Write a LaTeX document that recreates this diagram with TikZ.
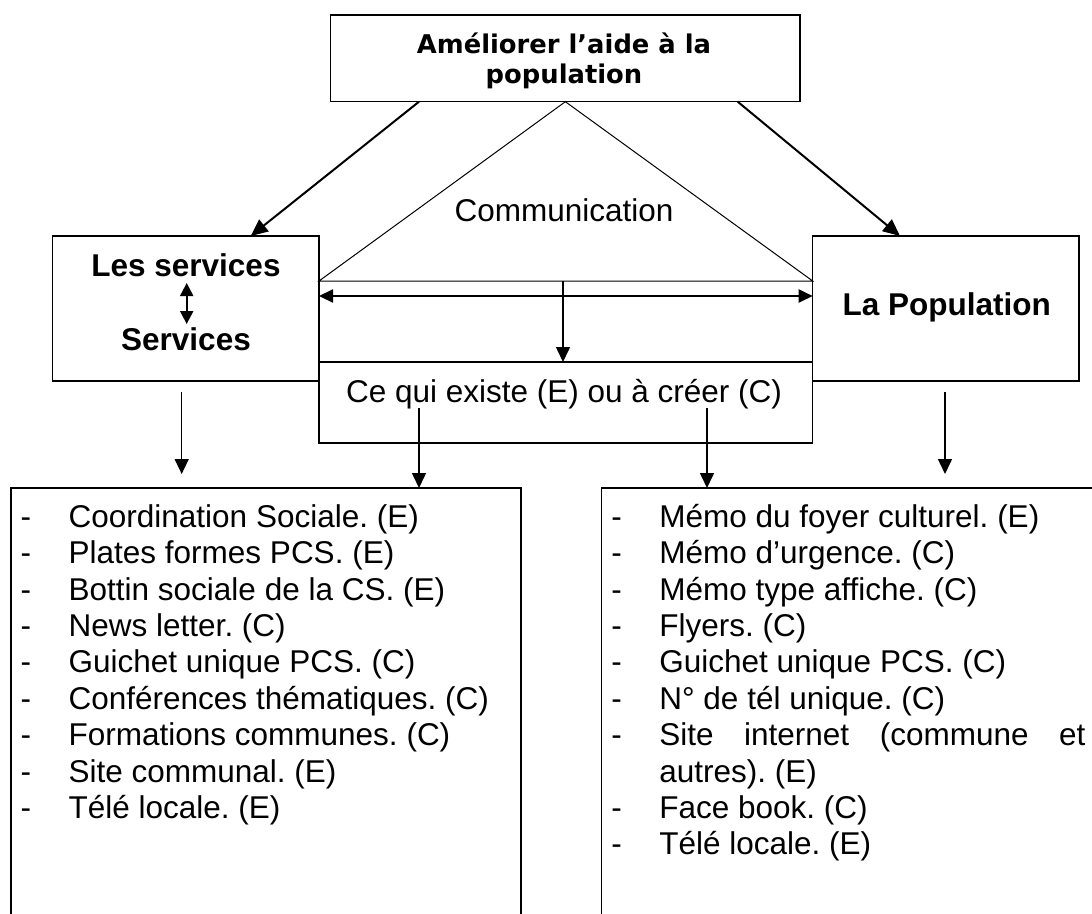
\documentclass[tikz,border=0pt]{standalone}
\usepackage{fontspec}
\setmainfont{Liberation Sans}
\newfontfamily\djv{DejaVu Sans}
\usetikzlibrary{arrows.meta,calc}
\newcommand\dashcell{\makebox[57.5pt][l]{\hspace{9.5pt}-}}
\newcommand\lstfont{\fontsize{31.5}{36.4}\selectfont}
\frenchspacing
\begin{document}
\begin{tikzpicture}[x=1pt,y=-1pt,
  box/.style={draw,line width=1.5pt,inner sep=0pt,outer sep=0pt,rectangle},
  thinline/.style={line width=1pt},
  arr/.style={line width=1.5pt,-{Triangle[length=15pt,width=14pt]}},
  bigarr/.style={line width=2pt,-{Triangle[length=17pt,width=15pt]}},
  dbl/.style={line width=2.2pt,{Triangle[length=14pt,width=13pt]}-{Triangle[length=14pt,width=13pt]}},
  sdbl/.style={line width=2pt,{Triangle[length=13pt,width=13pt]}-{Triangle[length=13pt,width=13pt]}},
  lbl/.style={anchor=base,inner sep=0pt,font=\lstfont},
  blbl/.style={anchor=base,inner sep=0pt,font=\lstfont\bfseries},
  tlbl/.style={anchor=base,inner sep=0pt,font=\djv\bfseries\fontsize{25.8}{30}\selectfont}]
\useasboundingbox (0,0) rectangle (1092,913);
\clip (0,0) rectangle (1092,913);

% boxes
\node[box,minimum width=469.3pt,minimum height=86.7pt] (top) at (565.35,58.35) {};
\node[box,minimum width=266.3pt,minimum height=145pt] (Lbox) at (185.85,308.5) {};
\node[box,minimum width=266.3pt,minimum height=145pt] (Rbox) at (945.85,308.5) {};
\node[box,minimum width=493.7pt,minimum height=81pt] (mid) at (565.85,402.5) {};
\node[box,minimum width=510pt,minimum height=500pt,anchor=north west] (LL) at (11,488) {};
\node[box,minimum width=600pt,minimum height=500pt,anchor=north west] (RL) at (601.7,488) {};

% texts
\node[tlbl] (t1) at (564,53.3) {Améliorer l’aide à la};
\node[tlbl] (t2) at (564,83.3) {population};
\node[lbl] (comm) at (564,221.7) {Communication};
\node[blbl] (ls) at (186,276) {Les services};
\node[blbl] (sv) at (186,350) {Services};
\node[blbl] (pop) at (946.7,315) {La Population};
\node[lbl] (ce) at (564,402) {Ce qui existe (E) ou à créer (C)};

\node[anchor=base west,inner sep=0pt,font=\lstfont] (LT) at (11,527.3) {\begin{tabular}[t]{@{}l@{}l@{}}
\dashcell & Coordination Sociale. (E)\\
\dashcell & Plates formes PCS. (E)\\
\dashcell & Bottin sociale de la CS. (E)\\
\dashcell & News letter. (C)\\
\dashcell & Guichet unique PCS. (C)\\
\dashcell & Conférences thématiques. (C)\\
\dashcell & Formations communes. (C)\\
\dashcell & Site communal. (E)\\
\dashcell & Télé locale. (E)
\end{tabular}};

\node[anchor=base west,inner sep=0pt,font=\lstfont] (RT) at (601.7,527.3) {\begin{tabular}[t]{@{}l@{}l@{}}
\dashcell & Mémo du foyer culturel. (E)\\
\dashcell & Mémo d’urgence. (C)\\
\dashcell & Mémo type affiche. (C)\\
\dashcell & Flyers. (C)\\
\dashcell & Guichet unique PCS. (C)\\
\dashcell & N° de tél unique. (C)\\
\dashcell & \makebox[426pt][s]{Site internet (commune et}\\
 & autres). (E)\\
\dashcell & Face book. (C)\\
\dashcell & Télé locale. (E)
\end{tabular}};

% coordinates
\coordinate (tb) at (563,281);
\coordinate (y296) at (0,296);
\coordinate (tA) at (419,101.7);
\coordinate (lA) at (250.7,236);
\coordinate (tB) at (737.7,101.7);
\coordinate (rB) at (900,236);
\coordinate (la1) at (181.7,392);
\coordinate (la2) at (181.7,474);
\coordinate (ra1) at (945,392);
\coordinate (ra2) at (945,474);
\coordinate (ia1) at (419,408);
\coordinate (ib1) at (707,408);
\coordinate (sd1) at (186.7,283);
\coordinate (sd2) at (186.7,324);

% triangle
\draw[thinline] (Lbox.east |- tb) -- (top.south) -- (Rbox.west |- tb) -- cycle;

% connectors
\draw[bigarr] (tA) -- (lA);
\draw[bigarr] (tB) -- (rB);
\draw[dbl] (Lbox.east |- y296) -- (Rbox.west |- y296);
\draw[arr] (tb) -- (tb |- mid.north);
\draw[sdbl] (sd1) -- (sd2);
\draw[arr] (la1) -- (la2);
\draw[arr] (ra1) -- (ra2);
\draw[arr] (ia1) -- (ia1 |- LL.north);
\draw[arr] (ib1) -- (ib1 |- RL.north);
\end{tikzpicture}
\end{document}
